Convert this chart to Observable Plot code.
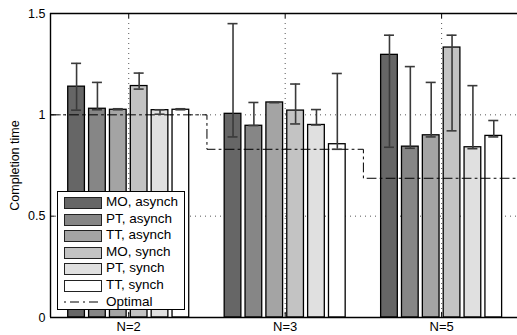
<!DOCTYPE html>
<html><head><meta charset="utf-8">
<script src="https://cdn.jsdelivr.net/npm/d3@7"></script>
<script src="https://cdn.jsdelivr.net/npm/@observablehq/plot@0.6"></script>
<style>
body{margin:0;background:#fff;font-family:"Liberation Sans",Arial,Helvetica,sans-serif}
#wrap{position:relative;width:517px;height:335px;overflow:hidden}
#legend{position:absolute;left:57px;top:191px;width:128px;height:119px;border:1px solid #000;background:#fff;padding-top:2px;box-sizing:border-box}
.row{position:relative;height:16.6px;font-size:13.5px;color:#000}
.sw{position:absolute;left:6px;top:3px;width:36px;height:10px;border:1px solid #222}
.lab{position:absolute;left:48px;top:0px;line-height:16px}
.ln{position:absolute;left:6px;top:3px}
</style></head>
<body><div id="wrap"></div>
<script>
const groups = ["2", "3", "5"];
const series = ["MO, asynch", "PT, asynch", "TT, asynch", "MO, synch", "PT, synch", "TT, synch"];
const grays = ["#666666", "#868686", "#a4a4a4", "#c3c3c3", "#e0e0e0", "#ffffff"];
// values[series][group]
const values = [
  [1.139, 1.005, 1.296],
  [1.030, 0.946, 0.843],
  [1.025, 1.061, 0.899],
  [1.142, 1.021, 1.332],
  [1.023, 0.950, 0.840],
  [1.025, 0.855, 0.896]
];
const errLow = [
  [1.023, 0.891, 0.840],
  [1.025, 0.947, 0.835],
  [1.025, 1.061, 0.891],
  [1.127, 0.955, 0.921],
  [1.003, 0.950, 0.833],
  [1.025, 0.830, 0.891]
];
const errHigh = [
  [1.254, 1.450, 1.393],
  [1.160, 1.061, 1.238],
  [1.030, 1.061, 1.160],
  [1.206, 1.152, 1.393],
  [1.025, 1.026, 1.144],
  [1.030, 1.204, 0.972]
];
const optimal = [1.0, 0.83, 0.687];
const yTicks = [0, 0.5, 1, 1.5];

const pitch = 0.8 / series.length;
const bw = pitch * 0.8;
const rows = [];
groups.forEach((g, gi) => series.forEach((s, si) => {
  const x = gi + 1 + (si - (series.length - 1) / 2) * pitch;
  rows.push({s, x, x1: x - bw / 2, x2: x + bw / 2, v: values[si][gi], lo: errLow[si][gi], hi: errHigh[si][gi]});
}));
const optLine = [{x: 0.5, y: optimal[0]}, ...optimal.map((y, i) => ({x: i + 1, y})), {x: groups.length + 0.5, y: optimal[optimal.length - 1]}];
const cap = 0.032;
const gx = groups.map((g, i) => i + 1);

const chart = Plot.plot({
  width: 517, height: 335,
  marginLeft: 50, marginRight: 0, marginTop: 13, marginBottom: 18,
  style: {fontFamily: '"Liberation Sans", Arial, sans-serif', fontSize: "12.5px", background: "#fff", color: "#000"},
  x: {domain: [0.5, 3.485]},
  y: {domain: [0, 1.5]},
  color: {domain: series, range: grays},
  marks: [
    Plot.ruleY([0.5, 1], {stroke: "#555", strokeWidth: 1, strokeDasharray: "1,4"}),
    Plot.ruleX(gx, {stroke: "#555", strokeWidth: 1, strokeDasharray: "1,4"}),
    Plot.rectY(rows, {x1: "x1", x2: "x2", y1: 0, y2: "v", fill: "s", stroke: "#000", strokeWidth: 1.3}),
    Plot.line(optLine, {x: "x", y: "y", curve: "step", stroke: "#000", strokeWidth: 1, strokeDasharray: "9,4,2,4"}),
    Plot.ruleX(rows, {x: "x", y1: "lo", y2: "hi", stroke: "#3a3a3a", strokeWidth: 1.6}),
    Plot.ruleY(rows, {y: "lo", x1: d => d.x - cap, x2: d => d.x + cap, stroke: "#3a3a3a", strokeWidth: 1.6}),
    Plot.ruleY(rows, {y: "hi", x1: d => d.x - cap, x2: d => d.x + cap, stroke: "#3a3a3a", strokeWidth: 1.6}),
    Plot.ruleY(yTicks, {x1: 0.5, x2: 0.53, stroke: "#000"}),
    Plot.ruleX(gx, {y1: 0, y2: 0.025, stroke: "#000"}),
    Plot.ruleX(gx, {y1: 1.475, y2: 1.5, stroke: "#000"}),
    Plot.ruleY([0], {stroke: "#000", strokeWidth: 1.4}),
    Plot.ruleY([1.5], {stroke: "#000", strokeWidth: 1.4}),
    Plot.ruleX([0.5], {stroke: "#000", strokeWidth: 1.4}),
    Plot.axisY(yTicks, {tickSize: 0, tickPadding: 5, tickFormat: d => String(d), fontSize: 12.5,
      label: "Completion time", labelAnchor: "center", labelOffset: 40, labelArrow: "none"}),
    Plot.axisX(gx, {tickSize: 0, tickPadding: 4, tickFormat: i => "N=" + groups[i - 1], fontSize: 13, label: null})
  ]
});
const wrap = document.getElementById("wrap");
wrap.appendChild(chart);

const leg = document.createElement("div");
leg.id = "legend";
series.forEach((s, i) => {
  const r = document.createElement("div");
  r.className = "row";
  r.innerHTML = `<span class="sw" style="background:${grays[i]}"></span><span class="lab">${s}</span>`;
  leg.appendChild(r);
});
const r = document.createElement("div");
r.className = "row";
r.innerHTML = `<svg class="ln" width="38" height="10"><line x1="0" x2="38" y1="5" y2="5" stroke="#000" stroke-dasharray="2,4,9,4"/></svg><span class="lab">Optimal</span>`;
leg.appendChild(r);
wrap.appendChild(leg);
</script>
</body></html>
